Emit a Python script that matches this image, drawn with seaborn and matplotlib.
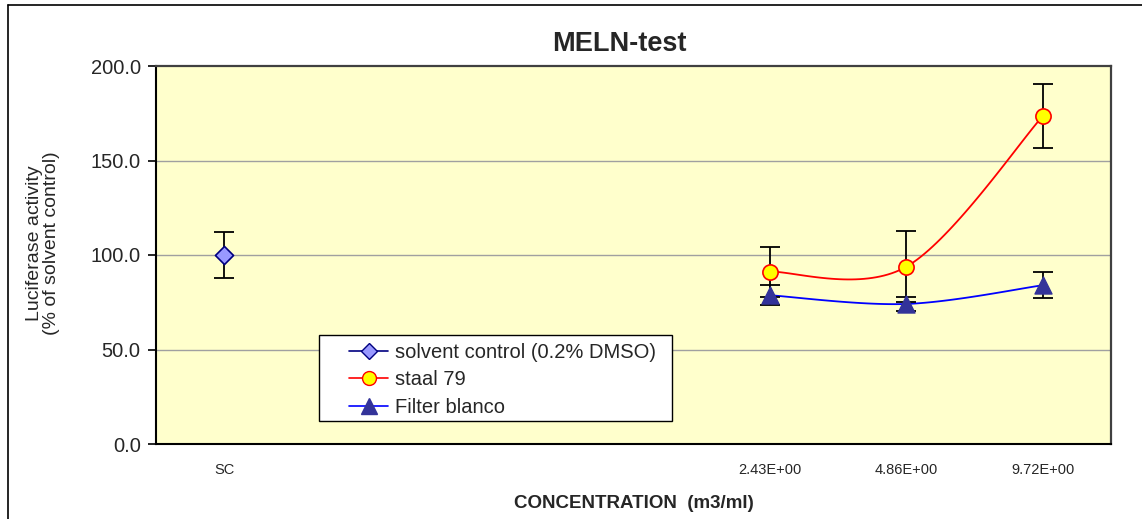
import numpy as np
import pandas as pd
import matplotlib
matplotlib.use("Agg")
import matplotlib.pyplot as plt
from matplotlib.lines import Line2D
from matplotlib.patches import Rectangle
from matplotlib.ticker import FixedLocator
import seaborn as sns

# ---- data ----
categories = ["SC", "", "", "", "2.43E+00", "4.86E+00", "9.72E+00"]
sc_pos = [0]
sc_vals = [100.0]
sc_err = [12.3]

conc_pos = [4, 5, 6]
staal_vals = [91.2, 93.8, 173.5]
staal_err = [13.2, 18.9, 16.8]
filter_vals = [78.7, 74.1, 84.0]
filter_err = [5.2, 3.9, 7.0]

yticks = [0.0, 50.0, 100.0, 150.0, 200.0]
legend_labels = ["solvent control (0.2% DMSO)", "staal 79", "Filter blanco"]

sns.set_style("white")
plt.rcParams['font.family'] = ['Liberation Sans', 'DejaVu Sans']

W, H = 1142, 519
fig = plt.figure(figsize=(W / 100, H / 100), dpi=100)
ax = fig.add_axes([156 / W, 1 - 444 / H, (1111 - 156) / W, (444 - 66) / H])
ax.set_facecolor("#FFFFCC")


def smooth(xs, ys, n=40):
    """Excel-like smoothed line (Catmull-Rom Bezier) through the data points."""
    P = np.column_stack([xs, ys]).astype(float)
    m = len(P)
    out = []
    for i in range(m - 1):
        p0 = P[i - 1] if i > 0 else P[i]
        p1, p2 = P[i], P[i + 1]
        p3 = P[i + 2] if i + 2 < m else P[i + 1]
        c1 = p1 + (p2 - p0) / 6.0
        c2 = p2 - (p3 - p1) / 6.0
        t = np.linspace(0, 1, n)[:, None]
        seg = ((1 - t) ** 3) * p1 + 3 * ((1 - t) ** 2) * t * c1 + 3 * (1 - t) * t ** 2 * c2 + t ** 3 * p2
        out.append(seg if i == 0 else seg[1:])
    return np.vstack(out)


cs = smooth(conc_pos, staal_vals)
cf = smooth(conc_pos, filter_vals)
df_s = pd.DataFrame({"x": cs[:, 0], "y": cs[:, 1]})
df_f = pd.DataFrame({"x": cf[:, 0], "y": cf[:, 1]})

# gridlines
for yv in yticks[1:-1]:
    ax.axhline(yv, color="#A0A0A0", lw=1.0, zorder=0.5)

sns.lineplot(data=df_f, x="x", y="y", sort=False, estimator=None, color="#0000FF", lw=1.3, ax=ax, zorder=2)
sns.lineplot(data=df_s, x="x", y="y", sort=False, estimator=None, color="#FF0000", lw=1.3, ax=ax, zorder=2)

# error bars
ekw = dict(fmt="none", ecolor="black", elinewidth=1.3, capsize=7, capthick=1.3, zorder=3)
ax.errorbar(sc_pos, sc_vals, yerr=sc_err, **ekw)
ax.errorbar(conc_pos, staal_vals, yerr=staal_err, **ekw)
ax.errorbar(conc_pos, filter_vals, yerr=filter_err, **ekw)

# markers
sns.scatterplot(x=sc_pos, y=sc_vals, marker="D", s=85, color="#9999FF", edgecolor="#000080", linewidth=1.2, ax=ax, zorder=4)
sns.scatterplot(x=conc_pos, y=staal_vals, marker="o", s=120, color="#FFFF00", edgecolor="#FF0000", linewidth=1.2, ax=ax, zorder=4)
sns.scatterplot(x=conc_pos, y=filter_vals, marker="^", s=150, color="#333399", edgecolor="#333399", linewidth=1.0, ax=ax, zorder=4)

# axes
ax.set_xlim(-0.5, len(categories) - 0.5)
ax.set_ylim(yticks[0], yticks[-1])
ax.set_xticks(range(len(categories)))
ax.set_xticklabels(categories, fontsize=10.5)
ax.xaxis.set_minor_locator(FixedLocator(np.arange(-0.5, len(categories), 1.0)))
ax.tick_params(axis="x", which="major", direction="inout", length=8, width=1.2, color="black", pad=10)
ax.tick_params(axis="x", which="minor", direction="out", length=5, width=1.2, color="#606060")
ax.set_yticks(yticks)
ax.set_yticklabels([f"{v:.1f}" for v in yticks], fontsize=14.5)
ax.tick_params(axis="y", which="major", direction="out", length=6, width=1.2, color="black", pad=5, left=True)
ax.set_xlabel("")
ax.set_ylabel("")

for side in ["left", "bottom"]:
    ax.spines[side].set_color("black")
    ax.spines[side].set_linewidth(1.5)
for side in ["top", "right"]:
    ax.spines[side].set_color("#404040")
    ax.spines[side].set_linewidth(1.6)

# legend (frame drawn separately to match the wide Excel legend box)
handles = [
    Line2D([0], [0], color="#000080", lw=1.2, marker="D", markersize=8, markerfacecolor="#9999FF", markeredgecolor="#000080"),
    Line2D([0], [0], color="#FF0000", lw=1.2, marker="o", markersize=10, markerfacecolor="#FFFF00", markeredgecolor="#FF0000"),
    Line2D([0], [0], color="#0000FF", lw=1.2, marker="^", markersize=11, markerfacecolor="#333399", markeredgecolor="#333399"),
]
leg = ax.legend(handles, legend_labels, loc="upper left",
                bbox_to_anchor=((349 - 156) / 955, (444 - 343) / 378),
                borderaxespad=0, borderpad=0, fontsize=14.5, frameon=False,
                handlelength=1.95, handletextpad=0.35, labelspacing=0.42)
leg.set_zorder(6)
frame = Rectangle((319 / W, 1 - 421 / H), (672 - 319) / W, (421 - 335) / H, transform=fig.transFigure,
                  facecolor="white", edgecolor="black", lw=1.0, zorder=5)
ax.add_artist(frame)
frame.set_clip_on(False)

# texts
fig.text(619 / W, 1 - 44 / H, "MELN-test", ha="center", va="center", fontsize=19.5, fontweight="bold")
fig.text(634 / W, 1 - 504 / H, "CONCENTRATION  (m3/ml)", ha="center", va="center", fontsize=13.5, fontweight="bold")
fig.text(43 / W, 1 - 243 / H, "Luciferase activity\n(% of solvent control)", ha="center", va="center",
         rotation=90, fontsize=14, linespacing=1.0)

# chart-area frame (left and top edges visible)
fig.add_artist(Line2D([8 / W, 8 / W], [1 - 5 / H, 0], color="black", lw=1.2, transform=fig.transFigure))
fig.add_artist(Line2D([8 / W, 1], [1 - 5 / H, 1 - 5 / H], color="black", lw=1.2, transform=fig.transFigure))

fig.savefig("out.png", dpi=100)
